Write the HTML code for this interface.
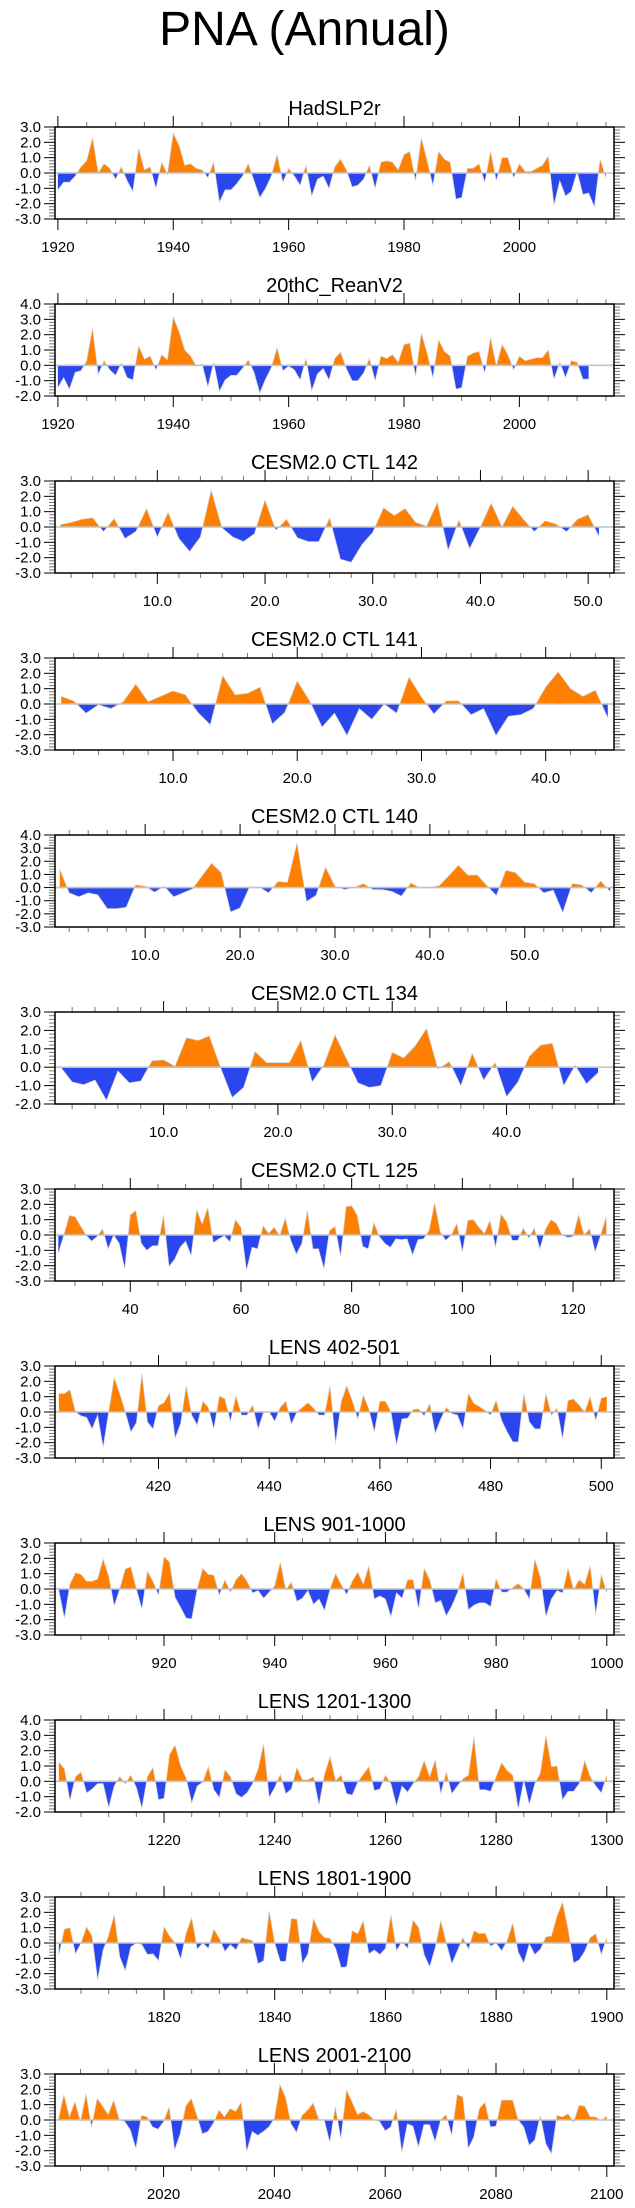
<!DOCTYPE html>
<html><head><meta charset="utf-8"><title>PNA (Annual)</title>
<style>
html,body{margin:0;padding:0;background:#fff;}
svg{display:block;font-family:"Liberation Sans",Arial,sans-serif;}
</style></head>
<body>
<svg id="chart" width="635" height="2208" viewBox="0 0 635 2208" xmlns="http://www.w3.org/2000/svg">
<rect x="0" y="0" width="635" height="2208" fill="#fff"/>
<text x="304.5" y="45" font-size="48" text-anchor="middle" fill="#000">PNA (Annual)</text>
<g id="panels"></g>
</svg>
<script>
// ---- data (one array per panel, annual index values) ----
const panelTitles = ["HadSLP2r","20thC_ReanV2","CESM2.0 CTL 142","CESM2.0 CTL 141","CESM2.0 CTL 140","CESM2.0 CTL 134","CESM2.0 CTL 125","LENS 402-501","LENS 901-1000","LENS 1201-1300","LENS 1801-1900","LENS 2001-2100"];
const startYears = [1920,1920,1,1,1,1,27,402,901,1201,1801,2001];

const hadslp2rValues = [-1.1,-0.6,-0.6,-0.2,0.4,0.8,2.3,0.0,0.6,0.3,-0.4,0.4,-0.5,-1.2,1.6,0.2,0.4,-1.0,0.7,-0.1,2.6,1.8,0.5,0.6,0.3,0.2,-0.3,0.7,-1.9,-1.1,-1.1,-0.7,-0.2,0.6,-0.5,-1.6,-1.0,-0.2,1.2,-0.6,0.3,-0.2,-0.8,0.5,-1.5,-0.4,-0.2,-1.0,0.4,0.9,0.2,-0.9,-0.8,-0.4,0.5,-1.0,0.7,0.8,0.7,0.2,1.2,1.4,-0.5,2.3,0.8,-0.8,1.4,0.9,0.7,-1.7,-1.6,0.3,0.3,0.6,-0.6,1.4,-0.5,1.0,1.0,-0.3,0.6,0.1,0.1,0.3,0.5,1.1,-2.1,-0.5,-1.5,-1.2,0.1,-1.4,-1.3,-2.2,0.9,-0.3];
const reanV2Values = [-1.45,-0.8,-1.55,-0.45,-0.35,0.3,2.4,-0.6,0.3,-0.3,-0.65,0.15,-0.8,-0.95,1.25,0.4,0.6,-0.3,0.7,0.35,3.15,2.2,1.0,0.6,-0.05,0.1,-1.4,0.2,-1.7,-0.95,-0.65,-0.65,-0.2,0.35,-0.45,-1.8,-0.9,-0.15,1.15,-0.35,-0.05,-0.3,-0.95,0.45,-1.65,-0.55,-0.2,-0.95,0.45,0.85,-0.2,-1.0,-1.0,-0.5,0.45,-1.0,0.6,0.45,0.7,0.2,1.35,1.45,-0.7,2.1,0.8,-0.8,1.65,0.9,0.6,-1.55,-1.45,0.6,0.8,0.9,-0.5,1.8,-0.05,1.35,0.7,-0.3,0.6,0.3,0.4,0.5,0.5,1.0,-0.9,0.2,-0.8,0.3,0.2,-0.9,-0.9];
const ctl142Values = [0.15,0.3,0.5,0.6,-0.3,0.55,-0.75,-0.3,1.2,-0.65,0.95,-0.75,-1.6,-0.65,2.4,-0.05,-0.65,-0.95,-0.45,1.75,-0.2,0.5,-0.7,-0.95,-0.95,0.6,-2.1,-2.3,-1.15,-0.35,1.25,0.75,1.2,0.3,0.05,1.6,-1.5,0.45,-1.4,0.0,1.55,0.0,1.35,0.5,-0.3,0.4,0.2,-0.3,0.5,0.8,-0.6];
const ctl141Values = [0.5,0.2,-0.6,-0.05,-0.3,0.15,1.3,0.15,0.5,0.85,0.6,-0.55,-1.35,1.85,0.6,0.7,1.1,-1.3,-0.55,1.5,0.2,-1.5,-0.6,-2.05,-0.3,-1.0,0.0,-0.6,1.75,0.45,-0.65,0.2,0.2,-0.7,-0.3,-2.05,-0.8,-0.7,-0.3,1.1,2.1,1.0,0.5,0.9,-0.9];
const ctl140Values = [1.4,-0.4,-0.7,-0.4,-0.55,-1.6,-1.6,-1.5,0.2,0.1,-0.35,0.1,-0.7,-0.4,-0.1,0.9,1.85,1.15,-1.85,-1.55,0.05,0.05,-0.4,0.45,0.4,3.4,-1.05,-0.6,1.55,0.1,-0.15,0.0,0.3,-0.15,-0.15,-0.3,-0.65,0.35,-0.05,0.0,0.15,0.9,1.7,0.95,0.95,0.15,-0.6,1.3,1.15,0.4,0.3,-0.4,-0.2,-1.9,0.3,0.2,-0.4,0.5,-0.3];
const ctl134Values = [0.0,-0.8,-0.95,-0.7,-1.8,-0.2,-0.85,-0.75,0.35,0.4,0.05,1.6,1.45,1.7,-0.05,-1.65,-1.1,0.85,0.25,0.25,0.25,1.45,-0.8,0.1,1.75,0.45,-0.85,-1.1,-1.0,0.8,0.5,1.15,2.1,-0.1,0.3,-1.0,0.75,-0.7,0.25,-1.6,-0.8,0.6,1.2,1.3,-1.0,0.1,-0.9,-0.3];
const ctl125Values = [-1.2,0.0,1.26,1.2,0.6,0.0,-0.4,-0.1,0.4,-0.9,0.0,-0.55,-2.2,1.3,1.6,-0.55,-1.0,-0.7,-0.7,1.3,-2.05,-1.6,-0.8,-0.4,-1.35,1.65,0.7,1.8,-0.5,-0.25,-0.05,-0.45,1.0,0.5,-2.3,-0.8,-0.9,0.6,0.1,0.5,-0.05,1.1,-0.35,-1.25,-0.55,1.6,-0.9,-0.9,-2.2,0.3,0.55,-1.4,1.85,1.9,1.3,-0.75,-0.9,0.8,-0.1,-0.55,-0.8,-0.25,-0.3,-0.25,-1.3,-0.3,-0.25,0.3,2.1,0.2,-0.35,0.0,0.75,-1.1,0.95,1.0,0.5,0.1,0.95,-0.8,1.35,0.85,-0.35,-0.35,0.45,-0.2,0.45,-0.9,0.35,1.0,0.75,0.0,-0.15,-0.1,1.3,0.0,0.4,-1.1,0.0,1.2];
const lens402Values = [1.2,1.2,1.45,0.0,-0.25,-0.35,-1.1,-0.2,-2.3,0.0,2.25,1.2,0.0,-1.3,-0.7,2.5,-0.65,-1.1,0.4,0.6,1.25,-1.7,-0.75,1.7,-0.2,-0.85,0.7,0.3,-1.1,1.05,0.85,-0.6,1.05,-0.2,-0.2,0.45,-1.1,0.0,0.0,-0.6,0.3,0.7,-0.8,0.0,0.3,0.6,0.25,-0.2,-0.2,1.7,-2.05,0.65,1.7,0.75,-0.45,1.1,0.2,-1.3,0.7,0.7,0.0,-2.15,-0.45,-0.4,0.15,0.2,-0.25,0.55,-1.4,-0.45,0.3,-0.1,-0.2,-1.1,1.2,0.55,0.35,0.1,-0.2,0.75,-0.55,-1.3,-1.95,-1.95,1.2,-0.65,-1.1,-1.1,1.2,-0.2,0.25,-1.75,0.75,0.85,0.45,0.0,1.0,-0.55,0.9,1.0];
const lens901Values = [-0.1,-1.9,0.3,1.05,0.95,0.5,0.5,0.65,1.95,0.85,-1.1,0.0,1.3,1.45,0.0,-1.3,1.15,0.5,-0.4,2.1,1.75,-0.55,-1.2,-1.9,-1.95,0.0,1.35,0.95,0.9,-0.4,0.6,-0.2,0.6,1.0,0.5,-0.25,-0.1,-0.6,-0.2,0.2,1.75,-0.05,0.45,-0.8,-0.6,-0.1,-1.0,-0.65,-1.4,0.0,1.0,0.3,-0.35,0.5,1.1,0.3,1.5,-0.65,-0.45,-0.65,-1.8,-0.25,-0.6,0.6,0.6,-1.3,1.35,0.6,-0.9,-0.75,-1.75,-1.1,-0.25,1.05,-1.35,-1.05,-0.9,-0.9,-1.15,0.65,-0.2,-0.2,0.1,0.35,0.0,-0.65,1.95,0.75,-1.8,-0.65,-0.1,-0.25,1.35,-0.05,0.6,0.3,1.5,-1.65,0.95,-0.25];
const lens1201Values = [1.25,0.8,-1.25,0.3,0.6,-0.75,-0.5,-0.15,-0.15,-1.7,-0.3,0.3,-0.15,0.4,-0.4,-1.75,0.3,0.9,-1.2,-1.1,1.75,2.35,1.0,0.2,-1.4,-0.3,-0.05,0.95,-0.55,-1.05,0.75,0.3,-0.8,-1.05,-0.75,-0.15,0.8,2.45,-1.05,-0.4,0.45,-0.8,-0.5,0.9,0.1,0.1,0.3,-1.55,0.45,1.6,0.05,0.4,-0.8,-0.9,-0.05,0.45,0.95,-0.6,-0.5,0.4,-0.15,-1.6,-0.3,-0.7,-0.15,0.3,1.35,0.3,1.4,-0.8,0.6,-0.8,-0.3,0.15,0.4,2.9,-0.55,-0.55,-0.65,0.3,1.2,0.7,0.4,-1.8,0.05,-1.5,-0.15,0.55,3.0,0.95,1.0,-1.2,-0.65,-0.65,-0.15,1.35,0.3,-0.3,-0.75,0.4];
const lens1801Values = [-0.75,0.9,1.0,-0.7,0.0,1.05,0.45,-2.4,-0.45,0.5,1.85,-0.9,-1.8,-0.25,0.0,-0.1,-0.75,-0.7,-1.15,1.05,0.45,0.0,-1.05,0.65,1.65,-0.4,0.0,-0.35,0.9,0.3,-0.55,-0.1,-0.45,0.35,0.25,0.15,-1.35,-1.15,2.1,0.0,-1.2,-1.2,1.6,1.55,-1.35,-0.7,1.6,0.75,0.35,0.3,-0.35,-1.6,-1.55,0.8,0.6,1.45,-0.7,-0.45,-0.75,-0.35,1.85,-0.5,0.1,-0.35,1.5,1.0,-0.75,-1.55,-0.3,1.45,0.0,-1.35,-0.5,0.35,-0.4,0.8,0.6,0.65,-0.2,0.0,-0.5,0.15,1.3,-0.6,-1.3,-0.05,-0.75,-0.4,0.4,0.45,1.75,2.65,0.9,-1.3,-1.1,-0.55,0.35,0.6,-0.75,0.35];
const lens2001Values = [0.0,1.65,0.2,1.2,-0.1,1.7,-0.45,1.4,0.9,0.35,1.3,0.0,-0.1,-0.65,-1.85,0.3,0.2,-0.45,-0.6,-0.1,0.85,-1.95,-0.9,0.9,1.4,0.3,-0.9,-0.75,-0.2,0.65,0.2,0.75,0.55,1.15,-2.05,-0.75,-1.0,-0.75,-0.45,0.1,2.3,1.5,-0.25,-0.8,0.3,0.65,1.1,0.05,0.0,-1.45,0.85,-1.2,1.95,1.2,0.35,0.55,0.35,0.0,-0.1,-0.7,-0.45,0.7,-2.1,-0.25,-0.4,-1.75,-0.3,-0.3,-1.4,0.0,0.35,-1.0,1.65,1.5,-1.85,-1.1,0.75,1.15,-0.45,-0.4,1.3,1.3,1.3,0.0,-0.45,-1.65,-1.3,0.3,-1.55,-2.2,0.3,0.2,0.4,-0.15,0.95,0.9,0.2,0.2,-0.05,0.25];

// axis ranges and tick labels
const xMins = [1919.5,1919.5,0.5,0.5,0.5,0.5,26.4,401.3,900.3,1200.3,1800.3,2000.4];
const xMaxs = [2016.4,2016.4,52.4,45.5,59.4,49.4,127.4,502.3,1001.3,1301.3,1901.3,2101.3];
const yMins = [-3,-2,-3,-3,-3,-2,-3,-3,-3,-2,-3,-3];
const yMaxs = [3,4,3,3,4,3,3,3,3,4,3,3];
const xTickLabels = [
  ["1920","1940","1960","1980","2000"],
  ["1920","1940","1960","1980","2000"],
  ["10.0","20.0","30.0","40.0","50.0"],
  ["10.0","20.0","30.0","40.0"],
  ["10.0","20.0","30.0","40.0","50.0"],
  ["10.0","20.0","30.0","40.0"],
  ["40","60","80","100","120"],
  ["420","440","460","480","500"],
  ["920","940","960","980","1000"],
  ["1220","1240","1260","1280","1300"],
  ["1820","1840","1860","1880","1900"],
  ["2020","2040","2060","2080","2100"]
];
const minorSteps = [5,5,2,2,2,2,5,5,5,5,5,5];

const allValues = [hadslp2rValues,reanV2Values,ctl142Values,ctl141Values,ctl140Values,ctl134Values,ctl125Values,lens402Values,lens901Values,lens1201Values,lens1801Values,lens2001Values];

// ---- drawing ----
const NS = "http://www.w3.org/2000/svg";
const root = document.getElementById('panels');
const BOX_L = 55, BOX_R = 614, BOX_H = 92, TOP0 = 127, GAP = 177;
const ORANGE = "#ff8000", BLUE = "#2a46ee";

function mk(tag, attrs, parent) {
  const e = document.createElementNS(NS, tag);
  for (const k in attrs) e.setAttribute(k, attrs[k]);
  parent.appendChild(e);
  return e;
}

for (let p = 0; p < allValues.length; p++) {
  const vals = allValues[p];
  const top = TOP0 + GAP * p, bot = top + BOX_H;
  const xmin = xMins[p], xmax = xMaxs[p], ymin = yMins[p], ymax = yMaxs[p];
  const sx = v => BOX_L + (v - xmin) / (xmax - xmin) * (BOX_R - BOX_L);
  const sy = v => top + (ymax - v) / (ymax - ymin) * BOX_H;
  const slug = panelTitles[p].toLowerCase().replace(/[^a-z0-9]+/g, '-');

  const g = mk('g', {}, root);
  
  

  const t = mk('text', {x: (BOX_L + BOX_R) / 2, y: top - 12, 'font-size': 20, 'text-anchor': 'middle', fill: '#000'}, g);
  t.textContent = panelTitles[p];
  
  

  // area path
  const y0 = sy(0);
  let d = 'M' + sx(startYears[p]).toFixed(2) + ',' + y0.toFixed(2);
  let line = '';
  vals.forEach((v, i) => {
    const X = sx(startYears[p] + i).toFixed(2), Y = sy(v).toFixed(2);
    d += ' L' + X + ',' + Y;
    line += (i ? ' L' : 'M') + X + ',' + Y;
  });
  d += ' L' + sx(startYears[p] + vals.length - 1).toFixed(2) + ',' + y0.toFixed(2) + ' Z';

  const cpA = 'clipA' + p, cpB = 'clipB' + p;
  const defs = mk('defs', {}, g);
  const ca = mk('clipPath', {id: cpA}, defs);
  mk('rect', {x: BOX_L, y: top, width: BOX_R - BOX_L, height: y0 - top}, ca);
  const cb = mk('clipPath', {id: cpB}, defs);
  mk('rect', {x: BOX_L, y: y0, width: BOX_R - BOX_L, height: bot - y0}, cb);

  const pos = mk('path', {d: d, fill: ORANGE, 'clip-path': 'url(#' + cpA + ')'}, g);
  
  
  const neg = mk('path', {d: d, fill: BLUE, 'clip-path': 'url(#' + cpB + ')'}, g);
  
  
  const ln = mk('path', {d: line, fill: 'none', stroke: '#d0d0d0', 'stroke-width': 0.7}, g);
  
  

  const zl = mk('line', {x1: BOX_L, x2: BOX_R, y1: y0, y2: y0, stroke: '#c4c4c4', 'stroke-width': 1.6}, g);
  
  

  // y ticks
  const yt = mk('g', {}, g);
  
  
  for (let k = Math.round(ymin * 5); k <= Math.round(ymax * 5); k++) {
    const v = k / 5, Y = sy(v);
    const major = (k % 5 === 0);
    const len = major ? 11 : 6;
    const col = major ? '#000' : '#777';
    mk('line', {x1: BOX_L - len, x2: BOX_L, y1: Y, y2: Y, stroke: col, 'stroke-width': 1}, yt);
    mk('line', {x1: BOX_R, x2: BOX_R + len, y1: Y, y2: Y, stroke: col, 'stroke-width': 1}, yt);
    if (major) {
      const lb = mk('text', {x: 41, y: Y + 5, 'font-size': 15, 'text-anchor': 'end', fill: '#000'}, yt);
      lb.textContent = v.toFixed(1);
      
      
    }
  }

  // x ticks
  const xt = mk('g', {}, g);
  
  
  const step = minorSteps[p];
  const majorVals = xTickLabels[p].map(s => parseFloat(s));
  const first = Math.ceil(xmin / step) * step;
  for (let v = first; v <= xmax; v += step) {
    const X = sx(v);
    const major = majorVals.some(m => Math.abs(m - v) < 1e-6);
    const len = major ? 11 : 5;
    const col = major ? '#000' : '#777';
    mk('line', {x1: X, x2: X, y1: bot, y2: bot + len, stroke: col, 'stroke-width': 1}, xt);
    mk('line', {x1: X, x2: X, y1: top - len, y2: top, stroke: col, 'stroke-width': 1}, xt);
  }
  xTickLabels[p].forEach((s, i) => {
    const lb = mk('text', {x: sx(majorVals[i]), y: bot + 33, 'font-size': 15, 'text-anchor': 'middle', fill: '#000'}, xt);
    lb.textContent = s;
    
    
  });

  const box = mk('rect', {x: BOX_L, y: top, width: BOX_R - BOX_L, height: BOX_H, fill: 'none', stroke: '#000', 'stroke-width': 1.5}, g);
  
  
}
</script>
</body></html>
